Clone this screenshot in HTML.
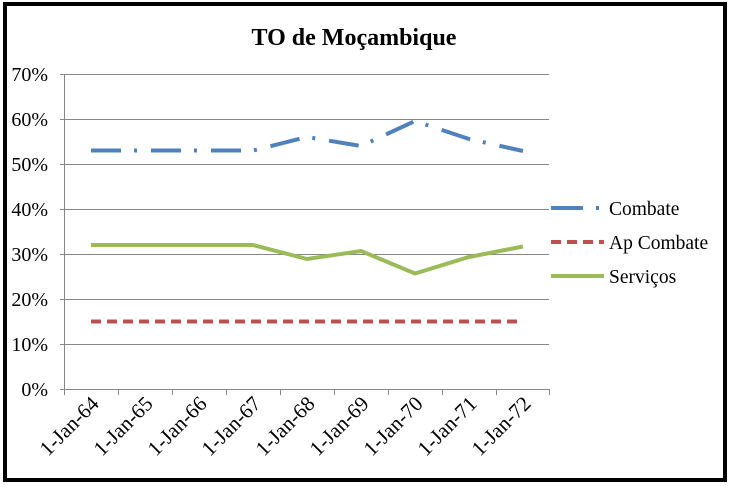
<!DOCTYPE html>
<html><head><meta charset="utf-8"><style>body{margin:0;background:#fff}svg{display:block}</style></head><body>
<svg width="730" height="487" xmlns="http://www.w3.org/2000/svg" font-family="Liberation Serif, serif">
<rect x="0" y="0" width="730" height="487" fill="#fff"/>
<rect x="5" y="4" width="720" height="476" fill="#fff" stroke="#000" stroke-width="4"/>
<text x="354" y="45" text-anchor="middle" font-size="24" font-weight="bold">TO de Moçambique</text>
<g stroke="#868686" stroke-width="1">
<line x1="60" y1="74.5" x2="549" y2="74.5"/>
<line x1="60" y1="119.5" x2="549" y2="119.5"/>
<line x1="60" y1="164.5" x2="549" y2="164.5"/>
<line x1="60" y1="209.5" x2="549" y2="209.5"/>
<line x1="60" y1="254.5" x2="549" y2="254.5"/>
<line x1="60" y1="299.5" x2="549" y2="299.5"/>
<line x1="60" y1="344.5" x2="549" y2="344.5"/>
<line x1="60" y1="389.5" x2="549" y2="389.5"/>
<line x1="64.5" y1="74" x2="64.5" y2="395"/>
<line x1="118.5" y1="389" x2="118.5" y2="395"/><line x1="172.5" y1="389" x2="172.5" y2="395"/>
<line x1="226.5" y1="389" x2="226.5" y2="395"/><line x1="280.5" y1="389" x2="280.5" y2="395"/>
<line x1="334.5" y1="389" x2="334.5" y2="395"/><line x1="388.5" y1="389" x2="388.5" y2="395"/>
<line x1="442.5" y1="389" x2="442.5" y2="395"/><line x1="496.5" y1="389" x2="496.5" y2="395"/>
<line x1="549.5" y1="389" x2="549.5" y2="395"/>
</g>
<g font-size="20" text-anchor="end">
<text x="48" y="81">70%</text><text x="48" y="126">60%</text><text x="48" y="171">50%</text>
<text x="48" y="216">40%</text><text x="48" y="261">30%</text><text x="48" y="306">20%</text>
<text x="48" y="351">10%</text><text x="48" y="396">0%</text>
</g>
<g font-size="21" text-anchor="end">
<text transform="translate(100,405) rotate(-45)">1-Jan-64</text>
<text transform="translate(154,405) rotate(-45)">1-Jan-65</text>
<text transform="translate(208,405) rotate(-45)">1-Jan-66</text>
<text transform="translate(262,405) rotate(-45)">1-Jan-67</text>
<text transform="translate(316,405) rotate(-45)">1-Jan-68</text>
<text transform="translate(370,405) rotate(-45)">1-Jan-69</text>
<text transform="translate(424,405) rotate(-45)">1-Jan-70</text>
<text transform="translate(478,405) rotate(-45)">1-Jan-71</text>
<text transform="translate(532,405) rotate(-45)">1-Jan-72</text>
</g>
<polyline fill="none" stroke="#4f81bd" stroke-width="4" stroke-dasharray="30 13 3 14" points="91,150.5 145,150.5 199,150.5 253,150.5 307,137 361,146 415,121 469,139 523,151"/>
<polyline fill="none" stroke="#c0504d" stroke-width="4" stroke-dasharray="10 6" points="91,321.5 523,321.5"/>
<polyline fill="none" stroke="#9bbb59" stroke-width="4" points="91,245 145,245 199,245 253,245 307,259 361,251 415,273.5 469,257 523,246.5"/>
<line x1="551" y1="208" x2="583" y2="208" stroke="#4f81bd" stroke-width="4"/>
<line x1="596" y1="208" x2="599" y2="208" stroke="#4f81bd" stroke-width="4"/>
<line x1="551" y1="242" x2="604" y2="242" stroke="#c0504d" stroke-width="4" stroke-dasharray="10 6"/>
<line x1="551" y1="276" x2="604" y2="276" stroke="#9bbb59" stroke-width="4"/>
<g font-size="19.5">
<text x="609" y="215">Combate</text>
<text x="609" y="249">Ap Combate</text>
<text x="609" y="283">Serviços</text>
</g>
</svg>
</body></html>
